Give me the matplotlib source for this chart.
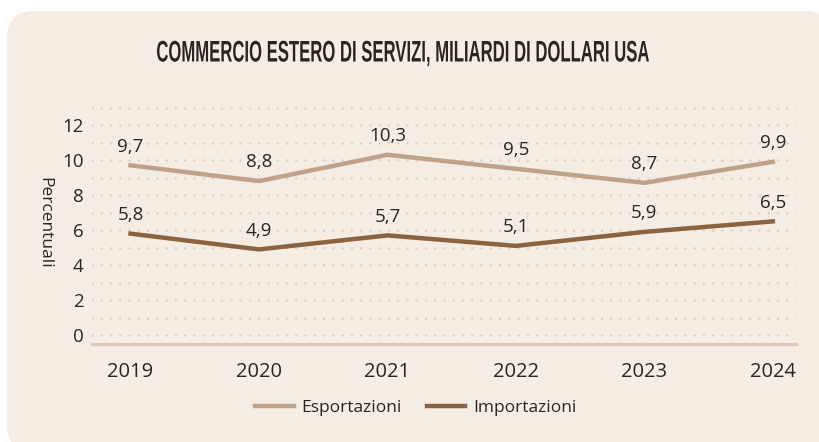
import matplotlib
matplotlib.use("Agg")
import matplotlib.pyplot as plt
from matplotlib.patches import FancyBboxPatch, PathPatch
from matplotlib.textpath import TextPath
from matplotlib.font_manager import FontProperties
from matplotlib.transforms import Affine2D, IdentityTransform

# data
years = ["2019", "2020", "2021", "2022", "2023", "2024"]
esportazioni = [9.7, 8.8, 10.3, 9.5, 8.7, 9.9]
importazioni = [5.8, 4.9, 5.7, 5.1, 5.9, 6.5]
y_ticks = [0, 2, 4, 6, 8, 10, 12]
grid_levels = list(range(0, 14))

title = "COMMERCIO ESTERO DI SERVIZI, MILIARDI DI DOLLARI USA"

c_exp = "#bfa289"
c_imp = "#8b6340"
c_bg = "#f5ece4"
c_text = "#2b2422"

plt.rcParams["font.family"] = ["Open Sans", "DejaVu Sans"]

W, H = 819, 442
fig = plt.figure(figsize=(W / 100, H / 100), dpi=100, facecolor="white")

# rounded background panel
box = FancyBboxPatch((0.07, -0.10), 8.25, 4.41,
                     boxstyle="round,pad=0,rounding_size=0.27",
                     transform=fig.dpi_scale_trans, facecolor=c_bg,
                     edgecolor="none", zorder=-10)
fig.patches.append(box)

ax = fig.add_axes([0.1123, 0.2217, 0.8596, 0.543])
ax.set_facecolor("none")

x = list(range(len(years)))

# dotted grid
for g in grid_levels:
    ax.axhline(g, color="#ddd0c4", lw=1.9, linestyle=(0, (0.01, 3.5)),
               dash_capstyle="round", zorder=1)

ax.plot(x, esportazioni, color=c_exp, lw=3.2, label="Esportazioni", zorder=3)
ax.plot(x, importazioni, color=c_imp, lw=3.2, label="Importazioni", zorder=3)

for xi, v in zip(x, esportazioni):
    ax.annotate(f"{v:.1f}".replace(".", ","), (xi, v), xytext=(0, 7),
                textcoords="offset points", ha="center", va="bottom",
                fontsize=13.5, color=c_text)
for xi, v in zip(x, importazioni):
    ax.annotate(f"{v:.1f}".replace(".", ","), (xi, v), xytext=(0, 7),
                textcoords="offset points", ha="center", va="bottom",
                fontsize=13.5, color=c_text)

ax.set_xlim(-0.30, 5.18)
ax.set_ylim(-0.5, 13.2)
ax.set_xticks(x)
ax.set_xticklabels(years)
ax.set_yticks(y_ticks)
ax.set_yticklabels([str(t) for t in y_ticks])
ax.tick_params(axis="x", length=0, pad=13, labelsize=14.5, colors=c_text)
ax.tick_params(axis="y", length=0, pad=6, labelsize=13.5, colors=c_text)

for s in ["top", "right", "left"]:
    ax.spines[s].set_visible(False)
ax.spines["bottom"].set_position(("data", -0.5))
ax.spines["bottom"].set_color("#dacabc")
ax.spines["bottom"].set_linewidth(2.4)

fig.text(44 / W, 1 - 223 / H, "Percentuali", rotation=270,
         ha="center", va="center", fontsize=12.5, color=c_text)

# condensed bold title: squeeze a bold glyph path horizontally
tp = TextPath((0, 0), title, size=20,
              prop=FontProperties(family="Liberation Sans", weight="bold"))
ext = tp.get_extents()
cap = TextPath((0, 0), "E", size=20,
               prop=FontProperties(family="Liberation Sans", weight="bold")).get_extents()
sx = (649 - 157) / ext.width
sy = 20.5 / cap.height
tr = Affine2D().translate(-ext.x0, 0).scale(sx, sy).translate(157, H - 61.5)
title_patch = PathPatch(tr.transform_path(tp), facecolor=c_text, edgecolor="none",
                        transform=IdentityTransform())
fig.patches.append(title_patch)

fig.legend(loc="center", bbox_to_anchor=(416 / W, 1 - 408 / H), ncol=2,
           frameon=False, fontsize=12.5, handlelength=2.2, handletextpad=0.46,
           columnspacing=1.44, labelcolor=c_text)

fig.savefig("out.png", dpi=100, facecolor="white")
